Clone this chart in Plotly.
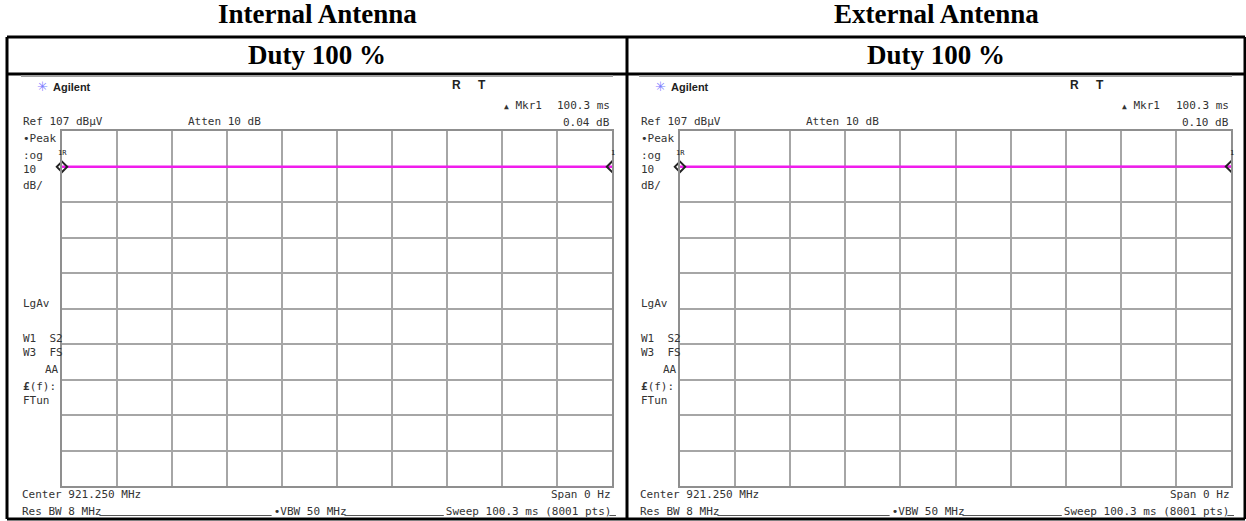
import plotly.graph_objects as go

# ---------------------------------------------------------------- data
panel_titles = ["Internal Antenna", "External Antenna"]
duty_labels = ["Duty 100 %", "Duty 100 %"]

# zero-span sweep: time axis (ms) and measured level (dBuV)
sweep_time_ms = [0.0, 10.03, 20.06, 30.09, 40.12, 50.15, 60.18, 70.21, 80.24, 90.27, 100.3]
internal_dbuv = [96.90, 96.91, 96.92, 96.90, 96.91, 96.93, 96.92, 96.91, 96.93, 96.92, 96.94]
external_dbuv = [96.90, 96.92, 96.94, 96.95, 96.93, 96.96, 96.97, 96.95, 96.98, 96.99, 97.00]

ref_level_dbuv = 107
scale_db_per_div = 10
sweep_ms = 100.3
center_mhz = "921.250"

# ---------------------------------------------------------------- geometry helpers
W, H = 1246, 521
MONO = "DejaVu Sans Mono"
SANS = "Liberation Sans"
SERIF = "Liberation Serif"
TXT = "#333333"
GRID = "#a6a6a6"
CHAR_W = 11 * 0.602  # advance of the mono font at 11 px


def px(x):
    return x / W


def py(y):
    return 1 - y / H


annotations = []
shapes = []


def label(text, x, y, size=11, xanchor="left", family=MONO, color=TXT):
    annotations.append(dict(
        text=text, x=px(x), y=py(y), xref="paper", yref="paper",
        xanchor=xanchor, yanchor="middle", showarrow=False,
        font=dict(family=family, size=size, color=color),
    ))


def hline(x0, x1, y, color="black", width=3):
    shapes.append(dict(type="line", xref="paper", yref="paper",
                       x0=px(x0), x1=px(x1), y0=py(y), y1=py(y),
                       line=dict(color=color, width=width)))


def vline(x, y0, y1, color="black", width=3):
    shapes.append(dict(type="line", xref="paper", yref="paper",
                       x0=px(x), x1=px(x), y0=py(y0), y1=py(y1),
                       line=dict(color=color, width=width)))


fig = go.Figure()

# table frame
TBL_L, TBL_M, TBL_R = 7, 627, 1245
TBL_T, TBL_D, TBL_B = 37, 74, 519
hline(TBL_L, TBL_R, TBL_T)
hline(TBL_L, TBL_R, TBL_D)
hline(TBL_L, TBL_R, TBL_B)
for xv in (TBL_L, TBL_M, TBL_R):
    vline(xv, TBL_T, TBL_B)

GRID_TOP, GRID_BOT = 131, 486
panels = [
    dict(levels=internal_dbuv, gx0=62, gx1=612, off=0, cx=(TBL_L + TBL_M) / 2),
    dict(levels=external_dbuv, gx0=680, gx1=1231, off=618, cx=(TBL_M + TBL_R) / 2),
]

for i, p in enumerate(panels):
    n = "" if i == 0 else str(i + 1)
    o = p["off"]
    cx = p["cx"]

    # table headings
    label(f"<b>{panel_titles[i]}</b>", cx, 14, size=27, xanchor="center", family=SERIF, color="black")
    label(f"<b>{duty_labels[i]}</b>", cx, 55, size=27, xanchor="center", family=SERIF, color="black")

    # analyzer screen top edge
    hline(21 + o, p["gx1"] + 1, 76, color="#a0a0a0", width=2)

    # axes
    fig.update_layout(**{
        f"xaxis{n}": dict(domain=[px(p["gx0"]), px(p["gx1"])], range=[0, sweep_ms],
                          tick0=0, dtick=sweep_ms / 10, showticklabels=False, ticks="",
                          showgrid=True, gridcolor=GRID, gridwidth=1.5, zeroline=False,
                          showline=True, linecolor="#8f8f8f", linewidth=2, mirror=True,
                          anchor=f"y{n}", fixedrange=True),
        f"yaxis{n}": dict(domain=[py(GRID_BOT), py(GRID_TOP)],
                          range=[ref_level_dbuv - 10 * scale_db_per_div, ref_level_dbuv],
                          tick0=ref_level_dbuv, dtick=scale_db_per_div,
                          showticklabels=False, ticks="",
                          showgrid=True, gridcolor=GRID, gridwidth=1.5, zeroline=False,
                          showline=True, linecolor="#8f8f8f", linewidth=2, mirror=True,
                          anchor=f"x{n}", fixedrange=True),
    })

    xa, ya = f"x{n}", f"y{n}"
    lv = p["levels"]

    # trace
    fig.add_trace(go.Scatter(x=sweep_time_ms, y=lv, mode="lines", xaxis=xa, yaxis=ya,
                             line=dict(color="#f01cec", width=2.5), showlegend=False,
                             hoverinfo="skip"))
    # marker 1R at sweep start and delta marker at sweep end
    fig.add_trace(go.Scatter(x=[sweep_time_ms[0]], y=[lv[0]], mode="markers",
                             xaxis=xa, yaxis=ya, cliponaxis=False,
                             marker=dict(symbol="diamond-open", size=8, color="#222",
                                         line=dict(width=2, color="#222")),
                             showlegend=False, hoverinfo="skip"))
    fig.add_trace(go.Scatter(x=[sweep_time_ms[-1]], y=[lv[-1]], mode="markers",
                             xaxis=xa, yaxis=ya, cliponaxis=True,
                             marker=dict(symbol="diamond-open", size=8, color="#222",
                                         line=dict(width=2, color="#222")),
                             showlegend=False, hoverinfo="skip"))
    label("1R", p["gx0"], 153, size=7, xanchor="center", color="#222")
    label("1", p["gx1"] - 3, 153, size=7, color="#222")

    delta_db = lv[-1] - lv[0]
    r = p["gx1"]

    # header area of the analyzer screen
    label("✳", 35 + o, 86, size=13, family="DejaVu Sans", color="#7d7dff")
    label("<b>Agilent</b>", 51 + o, 87, size=11, family=SANS, color="#222")
    label("<b>R</b>", 450 + o, 85, size=12, family=SANS, color="#222")
    label("<b>T</b>", 476 + o, 85, size=12, family=SANS, color="#222")
    label("<span style='font-size:8px'>▲</span> Mkr1", 502 + o, 106, size=11)
    label(f"{sweep_ms} ms", r, 106, size=11, xanchor="right")
    label(f"Ref {ref_level_dbuv} dBμV", 21 + o, 121, size=11)
    label("Atten 10 dB", 186 + o, 121, size=11)
    label(f"{delta_db:.2f} dB", r, 122, size=11, xanchor="right")

    # left-hand annotation column
    label("•Peak", 21 + o, 138)
    label(":og", 21 + o, 155)
    label(f"{scale_db_per_div}", 21 + o, 169)
    label("dB/", 21 + o, 186)
    label("LgAv", 21 + o, 303)
    label("W1  S2", 21 + o, 338)
    label("W3  FS", 21 + o, 352)
    label("AA", p["gx0"] - 1, 369, xanchor="right")
    label("<b>£</b>(f):", 21 + o, 386)
    label("FTun", 21 + o, 400)

    # footer
    x0 = 20 + o
    res_txt, vbw_txt = "Res BW 8 MHz", "•VBW 50 MHz"
    sweep_txt = f"Sweep {sweep_ms} ms (8001 pts)"
    gap1, gap2 = 26, 15
    label(f"Center {center_mhz} MHz", x0, 494)
    label("Span 0 Hz", r + 1, 494, xanchor="right")
    label(res_txt + "\u00a0" * gap1 + vbw_txt + "\u00a0" * gap2 + sweep_txt, x0, 511)
    # status-line underscores
    a = x0 + len(res_txt) * CHAR_W
    b = a + gap1 * CHAR_W
    c = b + len(vbw_txt) * CHAR_W
    d = c + gap2 * CHAR_W
    e = d + len(sweep_txt) * CHAR_W
    for s0, s1 in ((a, b), (c, d), (e, e + CHAR_W)):
        hline(s0, s1, 515.5, color="#555555", width=1)

fig.update_layout(
    width=W, height=H, margin=dict(l=0, r=0, t=0, b=0),
    paper_bgcolor="white", plot_bgcolor="white",
    annotations=annotations, shapes=shapes, showlegend=False,
)

fig.write_html("out.html", config={"displayModeBar": False})
